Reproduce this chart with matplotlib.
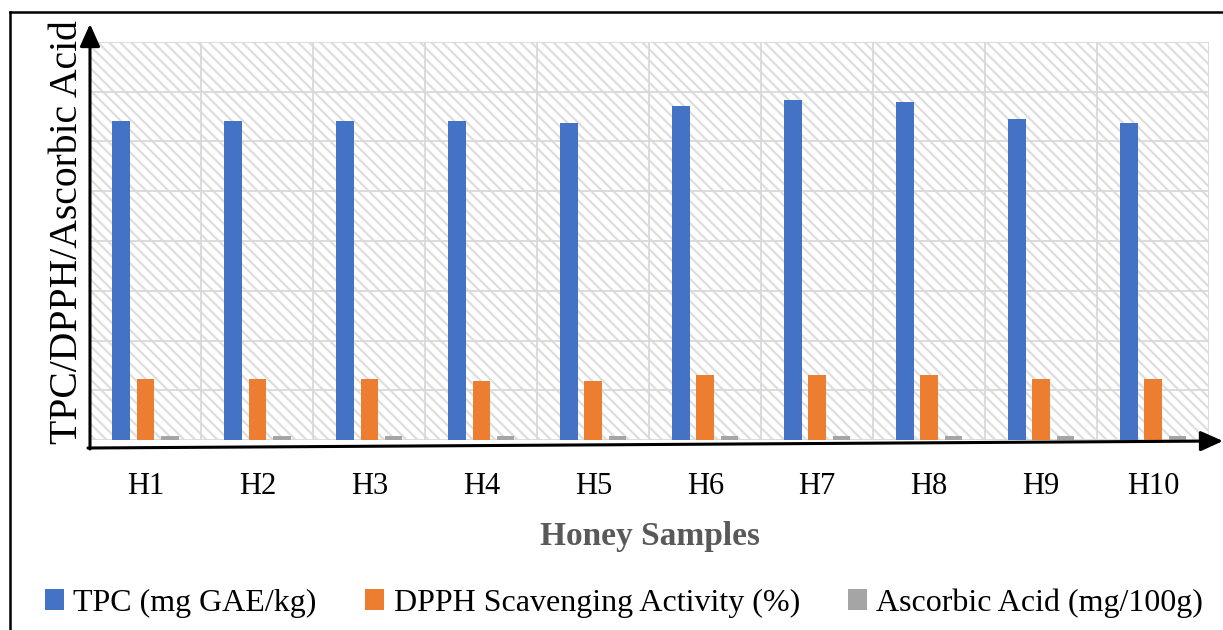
import matplotlib.pyplot as plt
import numpy as np
from matplotlib.patches import Rectangle, Patch, FancyArrowPatch
from matplotlib.lines import Line2D
from matplotlib.font_manager import FontProperties

plt.rcParams['font.family'] = ['Liberation Serif', 'DejaVu Serif']
plt.rcParams['hatch.linewidth'] = 1.6

samples = ['H1', 'H2', 'H3', 'H4', 'H5', 'H6', 'H7', 'H8', 'H9', 'H10']
tpc = [64.1, 64.1, 64.1, 64.1, 63.7, 67.1, 68.3, 67.9, 64.5, 63.7]
dpph = [12.3, 12.3, 12.3, 11.9, 11.9, 13.1, 13.1, 13.1, 12.3, 12.3]
ascorbic = [0.8, 0.8, 0.8, 0.8, 0.8, 0.8, 0.8, 0.8, 0.8, 0.8]
series_names = ['TPC (mg GAE/kg)', 'DPPH Scavenging Activity (%)', 'Ascorbic Acid (mg/100g)']
colors = ['#4472C4', '#ED7D31', '#A5A5A5']

W, H = 1223, 630
fig = plt.figure(figsize=(W / 100, H / 100), dpi=100)


def fx(px):
    return px / W


def fy(py):
    return 1 - py / H


# plot area
ax = fig.add_axes([fx(89.5), fy(440), fx(1209) - fx(89.5), fy(42) - fy(440)])
ax.set_xlim(-0.5, 9.5)
ax.set_ylim(0, 80)

# hatched background
ax.add_patch(Rectangle((0, 0), 1, 1, transform=ax.transAxes, facecolor='white',
                       edgecolor='#dedede', hatch='\\\\\\', linewidth=0, zorder=0))

# gridlines
for v in np.arange(0, 81, 10):
    ax.axhline(v, color='#d9d9d9', linewidth=1.3, zorder=0.5)
for v in np.arange(-0.5, 10, 1):
    ax.axvline(v, color='#d9d9d9', linewidth=1.3, zorder=0.5)

x = np.arange(len(samples))
w = 0.157
off = 0.217
ax.bar(x - off, tpc, w, color=colors[0], zorder=2)
ax.bar(x, dpph, w, color=colors[1], zorder=2)
ax.bar(x + off, ascorbic, w, color=colors[2], zorder=2)

for s in ax.spines.values():
    s.set_visible(False)
ax.set_yticks([])
ax.set_xticks(x)
ax.set_xticklabels(samples, fontsize=22)
ax.tick_params(axis='x', length=0, pad=23)

# axis titles
fig.text(fx(68), fy(232), 'TPC/DPPH/Ascorbic Acid', rotation=90, fontsize=28.5,
         ha='center', va='center')
fig.text(fx(650), fy(537), 'Honey Samples', fontsize=24, fontweight='bold',
         color='#595959', ha='center', va='center')

# axis arrows
ya = FancyArrowPatch((fx(90), fy(449)), (fx(90), fy(24)), transform=fig.transFigure,
                     arrowstyle='-|>,head_length=0.4,head_width=0.18', mutation_scale=34,
                     linewidth=2.2, color='black', shrinkA=0, shrinkB=0)
xa = FancyArrowPatch((fx(88), fy(448)), (fx(1223), fy(441)), transform=fig.transFigure,
                     arrowstyle='-|>,head_length=0.4,head_width=0.18', mutation_scale=34,
                     linewidth=2.2, color='black', shrinkA=0, shrinkB=0)
fig.add_artist(ya)
fig.add_artist(xa)

# outer border
fig.add_artist(Line2D([fx(10), fx(1223)], [fy(12), fy(12)], color='black', linewidth=1.8,
                      transform=fig.transFigure))
fig.add_artist(Line2D([fx(10), fx(10)], [fy(12), fy(630)], color='black', linewidth=1.8,
                      transform=fig.transFigure))

handles = [Patch(facecolor=c) for c in colors]
fig.legend(handles, series_names, ncol=3, loc='center', bbox_to_anchor=(fx(624), fy(603)),
           frameon=False, prop=FontProperties(family='Liberation Serif', size=23),
           handlelength=0.6, handleheight=0.6,
           handletextpad=0.3, columnspacing=1.5, borderpad=0)

fig.savefig('out.png', dpi=100)
